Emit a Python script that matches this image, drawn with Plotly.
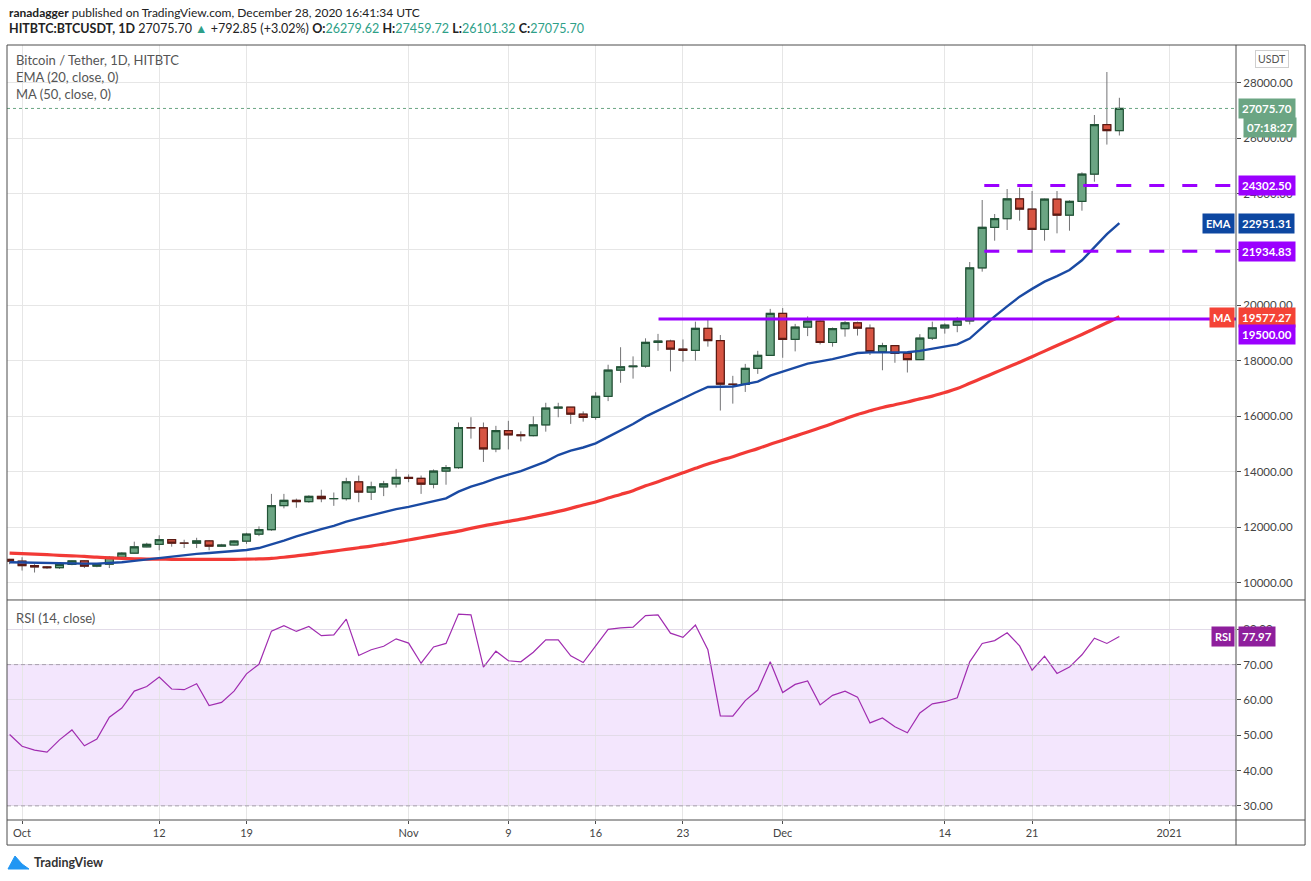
import pandas as pd
import plotly.graph_objects as go
from plotly.subplots import make_subplots

# daily candles, 30 Sep 2020 .. 28 Dec 2020 (HITBTC BTCUSDT, 1D)
dates = pd.date_range("2020-09-30", "2020-12-28", freq="D")

opens = [10840, 10776, 10619, 10570, 10542, 10666, 10786, 10600, 10668, 10915,
         11065, 11296, 11384, 11555, 11432, 11425, 11505, 11319, 11360, 11503,
         11751, 11910, 12780, 12968, 12923, 13111, 13028, 13031, 13635, 13266,
         13455, 13560, 13791, 13761, 13549, 14023, 14144, 15590, 15580, 14818,
         15475, 15328, 15297, 15684, 16291, 16320, 16070, 15957, 16714, 17655,
         17777, 17803, 18655, 18704, 18415, 18370, 19160, 18720, 17150, 17139,
         17719, 18185, 19696, 18765, 19205, 19422, 18650, 19147, 19359, 19166,
         18324, 18541, 18254, 18036, 18808, 19175, 19273, 19426, 21335, 22797,
         23107, 23821, 23455, 22719, 23810, 23232, 23729, 24712, 26493, 26279.62]
highs = [10860, 10920, 10670, 10600, 10700, 10800, 10800, 10690, 10960, 11100,
         11480, 11440, 11710, 11560, 11550, 11620, 11540, 11400, 11530, 11800,
         12030, 13200, 13200, 13030, 13150, 13350, 13250, 13780, 13860, 13640,
         13670, 14100, 13900, 13860, 14080, 14240, 15770, 15960, 15770, 15650,
         15830, 15450, 15990, 16480, 16480, 16330, 16170, 16860, 17850, 18480,
         18150, 18800, 18960, 18750, 18760, 19400, 19480, 18920, 17450, 17880,
         18350, 19860, 19890, 19320, 19590, 19500, 19190, 19420, 19400, 19300,
         18640, 18560, 18280, 18950, 19400, 19340, 19570, 21548, 23780, 23276,
         24176, 24224, 24104, 23830, 24104, 23769, 24777, 26840, 28388, 27459.72]
lows = [10670, 10440, 10370, 10500, 10500, 10630, 10530, 10560, 10530, 10830,
        11040, 11280, 11170, 11300, 11250, 11250, 11170, 11300, 11340, 11400,
        11680, 11870, 12680, 12700, 12880, 12900, 12770, 12960, 12900, 12980,
        13120, 13430, 13620, 13200, 13400, 13530, 14100, 15190, 14350, 14700,
        14800, 15090, 15270, 15440, 15960, 15720, 15800, 15870, 16540, 17200,
        17350, 17740, 18350, 17610, 17960, 18000, 18500, 16200, 16450, 16870,
        17520, 18170, 18100, 18330, 18880, 18580, 18500, 18860, 18900, 18200,
        17650, 17920, 17570, 18020, 18740, 18970, 19020, 19300, 21200, 22315,
        22700, 23035, 21884, 22315, 22580, 22675, 23395, 24439, 25775, 26101.32]
closes = [10776, 10619, 10570, 10542, 10666, 10786, 10600, 10668, 10915, 11065,
          11296, 11384, 11555, 11425, 11425, 11505, 11319, 11360, 11503, 11751,
          11910, 12780, 12968, 12923, 13111, 13028, 13031, 13635, 13266, 13455,
          13560, 13791, 13761, 13549, 14023, 14144, 15590, 15580, 14818, 15475,
          15328, 15297, 15684, 16291, 16320, 16070, 15957, 16714, 17655, 17777,
          17803, 18655, 18704, 18415, 18370, 19160, 18720, 17150, 17139, 17719,
          18185, 19696, 18765, 19205, 19422, 18650, 19147, 19359, 19166, 18324,
          18541, 18254, 18036, 18808, 19175, 19273, 19426, 21335, 22797, 23107,
          23821, 23455, 22719, 23810, 23232, 23729, 24712, 26493, 26280, 27075.70]

# indicator values
ema20 = [10740, 10730, 10715, 10700, 10695, 10700, 10690, 10690, 10710, 10740,
         10790, 10840, 10900, 10950, 10990, 11040, 11070, 11100, 11140, 11180,
         11250, 11380, 11520, 11670, 11810, 11930, 12050, 12200, 12320, 12430,
         12540, 12650, 12730, 12830, 12930, 13040, 13280, 13460, 13600, 13760,
         13890, 14020, 14190, 14360, 14600, 14760, 14870, 15020, 15250, 15480,
         15716, 15980, 16200, 16430, 16630, 16850, 17050, 17060, 17065, 17150,
         17240, 17460, 17600, 17750, 17890, 17970, 18050, 18160, 18270, 18295,
         18300, 18300, 18300, 18350, 18420, 18500, 18580, 18790, 19200, 19590,
         19950, 20300, 20580, 20840, 21040, 21260, 21610, 22100, 22550, 22951.31]
ma50 = [11070, 11050, 11030, 11010, 10990, 10970, 10950, 10920, 10900, 10880,
        10865, 10855, 10850, 10845, 10845, 10845, 10845, 10845, 10845, 10850,
        10860, 10880, 10920, 10970, 11020, 11080, 11140, 11200, 11260, 11320,
        11390, 11460, 11540, 11620, 11700, 11780, 11860, 11960, 12050, 12130,
        12210, 12290, 12380, 12470, 12570, 12680, 12800, 12910, 13050, 13180,
        13315, 13490, 13640, 13800, 13960, 14120, 14276, 14410, 14540, 14690,
        14830, 14990, 15130, 15280, 15430, 15580, 15735, 15900, 16060, 16190,
        16310, 16410, 16510, 16620, 16720, 16850, 16990, 17180, 17370, 17560,
        17750, 17940, 18140, 18340, 18540, 18740, 18940, 19150, 19360, 19577.27]
rsi14 = [50.2, 46.9, 45.8, 45.2, 48.7, 51.5, 47.0, 48.9, 55.1, 57.7,
         62.5, 63.8, 66.5, 63.1, 62.9, 64.6, 58.4, 59.3, 62.5, 67.4,
         70.1, 79.5, 81.0, 79.4, 80.8, 78.2, 78.4, 82.9, 72.6, 74.2,
         75.2, 77.3, 76.1, 70.4, 75.0, 76.0, 84.3, 84.1, 69.3, 73.8,
         71.1, 70.8, 73.5, 77.0, 77.0, 72.5, 70.6, 75.4, 80.0, 80.4,
         80.6, 83.9, 84.1, 78.9, 77.7, 81.2, 74.2, 55.5, 55.4, 59.8,
         62.8, 70.8, 62.1, 64.4, 65.4, 58.6, 61.3, 62.5, 60.8, 53.5,
         54.9, 52.4, 50.7, 56.3, 58.9, 59.5, 60.6, 70.8, 76.0, 76.8,
         79.0, 75.3, 68.4, 72.4, 67.5, 69.3, 72.8, 77.5, 76.0, 77.97]

# horizontal levels drawn on the chart
level_values = [24302.50, 21934.83, 19500.00]
level_starts = ["2020-12-17 04:00", "2020-12-17 04:00", "2020-11-21 01:00"]
level_dash = ["15px,18px", "15px,18px", "solid"]

tick_dates = ["2020-10-01", "2020-10-12", "2020-10-19", "2020-11-01", "2020-11-09",
              "2020-11-16", "2020-11-23", "2020-12-01", "2020-12-14", "2020-12-21",
              "2021-01-01"]
tick_text = ["Oct", "12", "19", "Nov", "9", "16", "23", "Dec", "14", "21", "2021"]
price_ticks = [10000, 12000, 14000, 16000, 18000, 20000, 22000, 24000, 26000, 28000]
rsi_ticks = [30, 40, 50, 60, 70, 80]

x_range = ["2020-09-29 19:00", "2021-01-06 08:30"]
UP, UP_LINE = "#6ba583", "#225437"
DN, DN_LINE = "#d75442", "#5b1a13"
PURPLE = "#9b00ff"
FONT = "Lato"

fig = make_subplots(rows=2, cols=1, shared_xaxes=True, vertical_spacing=0,
                    row_heights=[555, 220])

# wicks (grey) then bodies on top
fig.add_trace(go.Candlestick(x=dates, open=opens, high=highs, low=lows, close=closes,
                             increasing=dict(line=dict(color="#737375", width=1), fillcolor="#737375"),
                             decreasing=dict(line=dict(color="#737375", width=1), fillcolor="#737375"),
                             whiskerwidth=0, hoverinfo="skip"), row=1, col=1)
body_hi = [max(o, c) for o, c in zip(opens, closes)]
body_lo = [min(o, c) for o, c in zip(opens, closes)]
fig.add_trace(go.Candlestick(x=dates, open=opens, high=body_hi, low=body_lo, close=closes,
                             increasing=dict(line=dict(color=UP_LINE, width=1.2), fillcolor=UP),
                             decreasing=dict(line=dict(color=DN_LINE, width=1.2), fillcolor=DN),
                             whiskerwidth=0), row=1, col=1)

fig.add_trace(go.Scatter(x=dates, y=ma50, mode="lines", line_shape="spline",
                         line=dict(color="#f23a36", width=3.2)), row=1, col=1)
fig.add_trace(go.Scatter(x=dates, y=ema20, mode="lines",
                         line=dict(color="#1a4aa3", width=2.4)), row=1, col=1)

for val, start, dash in zip(level_values, level_starts, level_dash):
    fig.add_trace(go.Scatter(x=[start, x_range[1]], y=[val, val], mode="lines",
                             line=dict(color=PURPLE, width=3, dash=dash)), row=1, col=1)

fig.add_trace(go.Scatter(x=dates, y=rsi14, mode="lines",
                         line=dict(color="#a02cb0", width=1.2)), row=2, col=1)

# RSI band and guide lines
fig.add_shape(type="rect", xref="x2 domain", x0=0, x1=1, yref="y2", y0=30, y1=70,
              fillcolor="#f3e6fd", line_width=0, layer="below")
for lvl in [70, 30]:
    fig.add_shape(type="line", xref="x2 domain", x0=0, x1=1, yref="y2", y0=lvl, y1=lvl,
                  line=dict(color="#a8a0ae", width=1, dash="4px,3px"))

# last price dotted line
fig.add_shape(type="line", xref="x domain", x0=0, x1=1, yref="y", y0=closes[-1], y1=closes[-1],
              line=dict(color=UP, width=1, dash="dot"))

# frame
frame = dict(color="#4d4d4d", width=1)
fig.add_shape(type="rect", xref="paper", yref="paper", x0=0, x1=1.0562, y0=-0.0323, y1=1, line=frame)
fig.add_shape(type="line", xref="paper", yref="paper", x0=1, x1=1, y0=-0.0323, y1=1, line=frame)
fig.add_shape(type="line", xref="paper", yref="paper", x0=0, x1=1.0562, y0=0, y1=0, line=frame)
fig.add_shape(type="line", xref="paper", yref="paper", x0=0, x1=1.0562, y0=0.2839, y1=0.2839, line=frame)

grid = "#e6e6e6"
fig.update_xaxes(range=x_range, tickvals=tick_dates, ticktext=tick_text, showgrid=True,
                 gridcolor=grid, gridwidth=1, zeroline=False, showline=False,
                 rangeslider_visible=False, tickfont=dict(family=FONT, size=11, color="#444"))
fig.update_xaxes(showticklabels=False, ticks="", row=1, col=1)
fig.update_xaxes(ticks="outside", ticklen=3, tickcolor="#4d4d4d", row=2, col=1)
fig.update_yaxes(side="right", range=[9380, 29360], tickvals=price_ticks, tickformat=".2f",
                 showgrid=True, gridcolor=grid, zeroline=False, ticks="outside", ticklen=4,
                 tickcolor="#4d4d4d", tickfont=dict(family=FONT, size=11.5, color="#444"),
                 row=1, col=1)
fig.update_yaxes(side="right", range=[26.0, 88.3], tickvals=rsi_ticks, tickformat=".2f",
                 showgrid=True, gridcolor="#e2dbe8", zeroline=False, ticks="outside", ticklen=4,
                 tickcolor="#4d4d4d", tickfont=dict(family=FONT, size=11.5, color="#444"),
                 row=2, col=1)


def px_x(px):
    return (px - 7) / 1229


def px_y(py):
    return (820 - py) / 775


ann = []
head1 = "<b>ranadagger</b> published on TradingView.com, December 28, 2020 16:41:34 UTC"
teal = "#2e9f88"
head2 = ("<b>HITBTC:BTCUSDT, 1D</b> %.2f <span style='color:%s'>▲</span> +%.2f (+%.2f%%) "
         "<b>O:</b><span style='color:%s'>%.2f</span> <b>H:</b><span style='color:%s'>%.2f</span> "
         "<b>L:</b><span style='color:%s'>%.2f</span> <b>C:</b><span style='color:%s'>%.2f</span>"
         % (closes[-1], teal, 792.85, 3.02, teal, opens[-1], teal, highs[-1], teal, lows[-1], teal, closes[-1]))
ann.append(dict(text=head1, x=0, y=px_y(12), xanchor="left"))
ann.append(dict(text=head2, x=0, y=px_y(29), xanchor="left",
                font=dict(family=FONT, size=12.5, color="#222")))
legend_font = dict(family=FONT, size=13, color="#555")
ann.append(dict(text="Bitcoin / Tether, 1D, HITBTC", x=px_x(14), y=px_y(60), xanchor="left", font=legend_font))
ann.append(dict(text="EMA (20, close, 0)", x=px_x(14), y=px_y(77), xanchor="left", font=legend_font))
ann.append(dict(text="MA (50, close, 0)", x=px_x(14), y=px_y(94), xanchor="left", font=legend_font))
ann.append(dict(text="RSI (14, close)", x=px_x(14), y=px_y(618), xanchor="left", font=legend_font))
ann.append(dict(text="<b>TradingView</b>", x=px_x(32), y=px_y(862), xanchor="left",
                font=dict(family=FONT, size=12.5, color="#333")))
ann.append(dict(text="USDT", x=px_x(1272), y=px_y(59), xanchor="center",
                font=dict(family=FONT, size=10.5, color="#555"), bgcolor="white",
                bordercolor="#cfcfcf", borderwidth=1, borderpad=2))

# price scale labels (y in pixels where TradingView nudged them apart)
lab_font = dict(family=FONT, size=11.5, color="white")
tag_font = dict(family=FONT, size=11, color="white")
labels = [(closes[-1], UP, None), (level_values[0], PURPLE, None), (ema20[-1], "#0d47a1", None),
          (level_values[1], PURPLE, None), (ma50[-1], "#f44336", 317), (level_values[2], PURPLE, 334)]
for val, col, ypx in labels:
    pos = dict(y=val, yref="y") if ypx is None else dict(y=px_y(ypx))
    ann.append(dict(text="<b>%.2f</b>" % val, x=px_x(1238), xanchor="left",
                    bgcolor=col, borderpad=3, font=lab_font, **pos))
ann.append(dict(text="<b>07:18:27</b>", x=px_x(1243), y=px_y(127), xanchor="left",
                bgcolor=UP, borderpad=3, font=lab_font))
ann.append(dict(text="<b>EMA</b>", x=px_x(1235), y=ema20[-1], yref="y", xanchor="right",
                bgcolor="#0d47a1", borderpad=3, font=tag_font))
ann.append(dict(text="<b>MA</b>", x=px_x(1235), y=px_y(317), xanchor="right",
                bgcolor="#f44336", borderpad=3, font=tag_font))
ann.append(dict(text="<b>RSI</b>", x=px_x(1235), y=rsi14[-1], yref="y2", xanchor="right",
                bgcolor="#8e1f9c", borderpad=3, font=tag_font))
ann.append(dict(text="<b>%.2f</b>" % rsi14[-1], x=px_x(1238), y=rsi14[-1], yref="y2", xanchor="left",
                bgcolor="#8e1f9c", borderpad=3, font=lab_font))

for a in ann:
    a.setdefault("xref", "paper")
    a.setdefault("yref", "paper")
    a.setdefault("yanchor", "middle")
    a.setdefault("showarrow", False)
    a.setdefault("font", dict(family=FONT, size=12, color="#222"))
fig.update_layout(annotations=ann)

# small logo mark next to TradingView
fig.add_shape(type="path", xref="paper", yref="paper",
              path="M %f %f L %f %f L %f %f L %f %f Z" % (px_x(8), px_y(869), px_x(15), px_y(856),
                                                         px_x(22), px_y(864), px_x(29), px_y(869)),
              fillcolor="#2196f3", line=dict(color="#2196f3", width=1))

fig.update_layout(width=1311, height=881, margin=dict(l=7, r=75, t=45, b=61),
                  paper_bgcolor="white", plot_bgcolor="white", showlegend=False,
                  boxgap=0.1, font=dict(family=FONT))

fig.write_html("out.html", config={"displayModeBar": False},
               post_script="document.body.style.margin='0';")
